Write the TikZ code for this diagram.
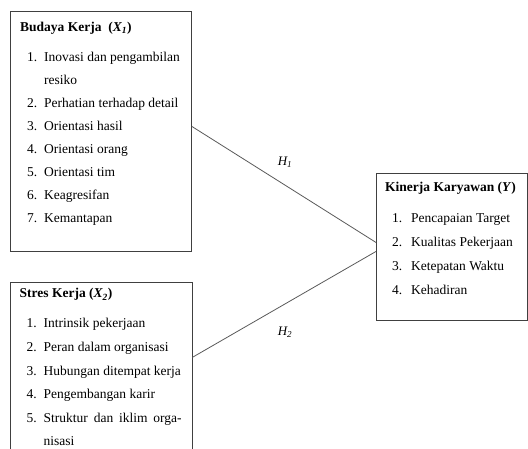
\documentclass[tikz,border=0pt]{standalone}
\usepackage{fontspec}
\setmainfont{Liberation Serif}
\usepackage{tikz}
\usetikzlibrary{positioning}

\newcommand{\itm}[1]{\makebox[17pt][l]{#1}}
\newcommand{\itmY}[1]{\makebox[19pt][l]{#1}}

\begin{document}
\begin{tikzpicture}[x=1pt, y=-1pt,
    box/.style={draw=black!75, line width=0.9pt, rectangle, inner sep=0pt},
    lst/.style={anchor=base west, align=left, inner sep=0pt},
    link/.style={draw=black!65, line width=0.8pt},
    hyp/.style={font=\fontsize{13}{14}\selectfont\itshape}]
    \clip (0,0) rectangle (528,448);

    % variabel bebas
    \node[box, anchor=north west, minimum width=181pt, minimum height=240pt] (X1) at (10,11) {};
    \node[box, minimum width=182pt, minimum height=190pt] (X2) [below=30pt of X1] {};
    % variabel terikat
    \node[box, anchor=north west, minimum width=151pt, minimum height=147pt] (Y) at (376,173) {};

    % base = baris terakhir
    \node[lst, font=\fontsize{13.5}{23}\selectfont] (X1txt) at ([xshift=10pt, yshift=-211pt]X1.north west) {%
        \textbf{Budaya Kerja \ (\textit{X\textsubscript{1}})}\\[7pt]
        \hspace{7pt}\itm{1.}Inovasi dan pengambilan\\
        \hspace{7pt}\itm{}resiko\\
        \hspace{7pt}\itm{2.}Perhatian terhadap detail\\
        \hspace{7pt}\itm{3.}Orientasi hasil\\
        \hspace{7pt}\itm{4.}Orientasi orang\\
        \hspace{7pt}\itm{5.}Orientasi tim\\
        \hspace{7pt}\itm{6.}Keagresifan\\
        \hspace{7pt}\itm{7.}Kemantapan};
    \node[lst, font=\fontsize{13.5}{23.6}\selectfont] (X2txt) at ([xshift=10pt, yshift=-164pt]X2.north west) {%
        \textbf{Stres Kerja (\textit{X\textsubscript{2}})}\\[6.4pt]
        \hspace{7pt}\itm{1.}Intrinsik pekerjaan\\
        \hspace{7pt}\itm{2.}Peran dalam organisasi\\
        \hspace{7pt}\itm{3.}Hubungan ditempat kerja\\
        \hspace{7pt}\itm{4.}Pengembangan karir\\
        \hspace{7pt}\itm{5.}\makebox[138pt][s]{Struktur dan iklim orga-}\\
        \hspace{7pt}\itm{}nisasi};
    \node[lst, font=\fontsize{13.5}{23.7}\selectfont] (Ytxt) at ([xshift=9pt, yshift=-121pt]Y.north west) {%
        \textbf{Kinerja Karyawan (\textit{Y})}\\[7.3pt]
        \hspace{7pt}\itmY{1.}Pencapaian Target\\
        \hspace{7pt}\itmY{2.}Kualitas Pekerjaan\\
        \hspace{7pt}\itmY{3.}Ketepatan Waktu\\
        \hspace{7pt}\itmY{4.}Kehadiran};

    % hipotesis
    \draw[link] ([yshift=5pt]X1.east) -- ([yshift=4.5pt]Y.west);
    \draw[link] ([yshift=20pt]X2.east) -- ([yshift=-4.5pt]Y.west);
    \node[hyp] (H1) at (285,162) {H\textsubscript{1}};
    \node[hyp] (H2) at (285,332) {H\textsubscript{2}};
\end{tikzpicture}
\end{document}
